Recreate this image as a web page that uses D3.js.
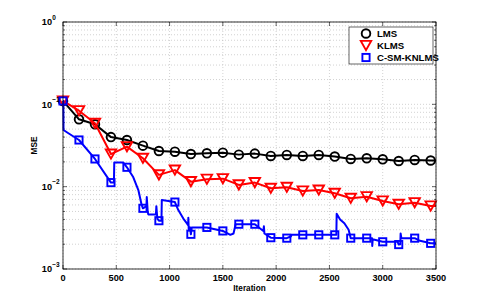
<!DOCTYPE html>
<html><head><meta charset="utf-8">
<script src="https://cdn.jsdelivr.net/npm/d3@7"></script>
<style>
html,body{margin:0;padding:0;background:#fff;}
svg text{font-family:"Liberation Sans",Arial,sans-serif;font-weight:bold;}
</style></head>
<body><svg id="c" width="482" height="303"></svg>
<script>
// ---- data ----
const seriesNames = ["LMS", "KLMS", "C-SM-KNLMS"];
const xTickValues = [0, 500, 1000, 1500, 2000, 2500, 3000, 3500];
const yTickExponents = [0, -1, -2, -3];
const markerIter = [0,150,300,450,600,750,900,1050,1200,1350,1500,1650,1800,1950,2100,2250,2400,2550,2700,2850,3000,3150,3300,3450];
const lmsMSE = [0.110,0.0658,0.0572,0.0400,0.0369,0.0315,0.0271,0.0266,0.0249,0.0254,0.0259,0.0245,0.0252,0.0236,0.0243,0.0236,0.0243,0.0232,0.0217,0.0221,0.0215,0.0205,0.0211,0.0208];
const klmsMSE = [0.110,0.0837,0.0588,0.0249,0.0306,0.0221,0.0139,0.0159,0.0115,0.0123,0.0125,0.0105,0.0112,0.00955,0.00982,0.00886,0.0091,0.0083,0.00722,0.00755,0.0067,0.0061,0.00638,0.00582];
const csmMarkerMSE = [0.110,0.0369,0.0217,0.0112,0.0172,0.00546,0.00386,0.0065,0.00264,0.0032,0.0029,0.0035,0.0035,0.0024,0.00237,0.0026,0.0026,0.0026,0.00237,0.00237,0.00214,0.00198,0.00237,0.00205];
const csmLineIter = [0,3,5,47,150,300,450,478,481,566,600,657,707,738,750,783,786,795,800,872,876,885,900,924,927,1050,1082,1129,1161,1174,1176,1180,1192,1200,1208,1350,1500,1570,1600,1620,1650,1800,1850,1880,1885,1890,1950,2100,2140,2145,2250,2400,2550,2565,2568,2600,2640,2680,2700,2850,2900,2902,2906,3000,3140,3150,3165,3168,3175,3300,3350,3450,3500];
const csmLineMSE = [0.110,0.110,0.0488,0.0449,0.0369,0.0217,0.0112,0.0112,0.0196,0.0196,0.0172,0.0132,0.0091,0.0060,0.00546,0.0058,0.0075,0.0050,0.0046,0.0046,0.0058,0.0041,0.00386,0.00386,0.0069,0.0065,0.0052,0.0041,0.0036,0.0034,0.0042,0.0030,0.0032,0.00264,0.0032,0.0032,0.0029,0.0026,0.0027,0.0035,0.0035,0.0035,0.0031,0.0029,0.0033,0.0027,0.0024,0.00237,0.0025,0.0026,0.0026,0.0026,0.0026,0.0026,0.0047,0.0040,0.0036,0.0030,0.00237,0.00237,0.00237,0.0019,0.0023,0.00214,0.00214,0.00198,0.0020,0.0027,0.00237,0.00237,0.0022,0.00205,0.00205];
const lmsEnd = [3500, 0.0208];
const klmsEnd = [3500, 0.00582];

// ---- layout ----
const L = 63, R = 436, T = 22, B = 269;
const svg = d3.select("#c");
const x = d3.scaleLinear().domain([0, 3500]).range([L, R]);
const y = d3.scaleLog().domain([1e-3, 1]).range([B, T]);

// grid
const g = svg.append("g");
const yGrid = y.ticks();
g.selectAll("line.yg").data(yGrid).enter().append("line")
  .attr("x1", L).attr("x2", R).attr("y1", d => y(d)).attr("y2", d => y(d))
  .attr("stroke", "#b4b4b4").attr("stroke-width", 0.6).attr("stroke-dasharray", "1,2");
g.selectAll("line.xg").data(xTickValues).enter().append("line")
  .attr("y1", T).attr("y2", B).attr("x1", d => x(d)).attr("x2", d => x(d))
  .attr("stroke", "#b4b4b4").attr("stroke-width", 0.6).attr("stroke-dasharray", "1,2");

// ticks (inward) on all sides
const tk = svg.append("g").attr("stroke", "#000").attr("stroke-width", 0.6);
xTickValues.forEach(v => {
  tk.append("line").attr("x1", x(v)).attr("x2", x(v)).attr("y1", B).attr("y2", B - 4);
  tk.append("line").attr("x1", x(v)).attr("x2", x(v)).attr("y1", T).attr("y2", T + 4);
});
yGrid.forEach(v => {
  const major = Math.abs(Math.log10(v) - Math.round(Math.log10(v))) < 1e-9;
  const len = major ? 4 : 2;
  tk.append("line").attr("x1", L).attr("x2", L + len).attr("y1", y(v)).attr("y2", y(v));
  tk.append("line").attr("x1", R).attr("x2", R - len).attr("y1", y(v)).attr("y2", y(v));
});

// lines
const line = d3.line().x(d => x(d[0])).y(d => y(d[1]));
const lmsPts = markerIter.map((it, i) => [it, lmsMSE[i]]).concat([lmsEnd]);
const klmsPts = markerIter.map((it, i) => [it, klmsMSE[i]]).concat([klmsEnd]);
const csmPts = csmLineIter.map((it, i) => [it, csmLineMSE[i]]);

const plot = svg.append("g");
function drawSeries(pts, mk, color, shape) {
  plot.append("path").attr("d", line(pts)).attr("fill", "none")
    .attr("stroke", color).attr("stroke-width", 2).attr("stroke-linejoin", "round");
  const m = plot.append("g");
  markerIter.forEach((it, i) => drawMarker(m, x(it), y(mk[i]), color, shape));
}
function drawMarker(sel, cx, cy, color, shape) {
  if (shape === "o") {
    sel.append("circle").attr("cx", cx).attr("cy", cy).attr("r", 4.3)
      .attr("fill", "none").attr("stroke", color).attr("stroke-width", 1.9);
  } else if (shape === "v") {
    const w = 5.2, h = 4.6;
    sel.append("path").attr("d", `M${cx - w},${cy - h}L${cx + w},${cy - h}L${cx},${cy + h}Z`)
      .attr("fill", "none").attr("stroke", color).attr("stroke-width", 1.9).attr("stroke-linejoin", "miter");
  } else {
    const s = 3.6;
    sel.append("rect").attr("x", cx - s).attr("y", cy - s).attr("width", 2 * s).attr("height", 2 * s)
      .attr("fill", "none").attr("stroke", color).attr("stroke-width", 1.9);
  }
}
drawSeries(lmsPts, lmsMSE, "#000", "o");
drawSeries(klmsPts, klmsMSE, "#ff0000", "v");
drawSeries(csmPts, csmMarkerMSE, "#0000ff", "s");

// axes box
svg.append("rect").attr("x", L).attr("y", T).attr("width", R - L).attr("height", B - T)
  .attr("fill", "none").attr("stroke", "#000").attr("stroke-width", 0.8);

// tick labels
svg.append("g").selectAll("text").data(xTickValues).enter().append("text")
  .attr("x", d => x(d)).attr("y", 281).attr("text-anchor", "middle")
  .attr("font-size", "9.2px").text(d => d);
yTickExponents.forEach(e => {
  const t = svg.append("text").attr("x", 52).attr("y", y(Math.pow(10, e)) + 3.3)
    .attr("text-anchor", "end").attr("font-size", "9.2px").text("10");
  svg.append("text").attr("x", 52.3).attr("y", y(Math.pow(10, e)) - 2.5)
    .attr("font-size", "6.5px").text(e === 0 ? "0" : "\u2212" + (-e));
});

// axis labels
svg.append("text").attr("x", (L + R) / 2).attr("y", 290.5).attr("text-anchor", "middle")
  .attr("font-size", "8.2px").text("Iteration");
svg.append("text").attr("transform", `translate(37,${(T + B) / 2}) rotate(-90)`)
  .attr("text-anchor", "middle").attr("font-size", "8.2px").text("MSE");

// legend
const lg = svg.append("g");
lg.append("rect").attr("x", 349).attr("y", 27).attr("width", 84).attr("height", 37)
  .attr("fill", "#fff").attr("stroke", "#000").attr("stroke-width", 0.6);
const legColors = ["#000", "#ff0000", "#0000ff"], legShapes = ["o", "v", "s"];
seriesNames.forEach((n, i) => {
  const cy = 33.5 + i * 12;
  drawMarker(lg, 366, cy, legColors[i], legShapes[i]);
  lg.append("text").attr("x", 377).attr("y", cy + 3.4).attr("font-size", "9.6px").text(n);
});
</script></body></html>
